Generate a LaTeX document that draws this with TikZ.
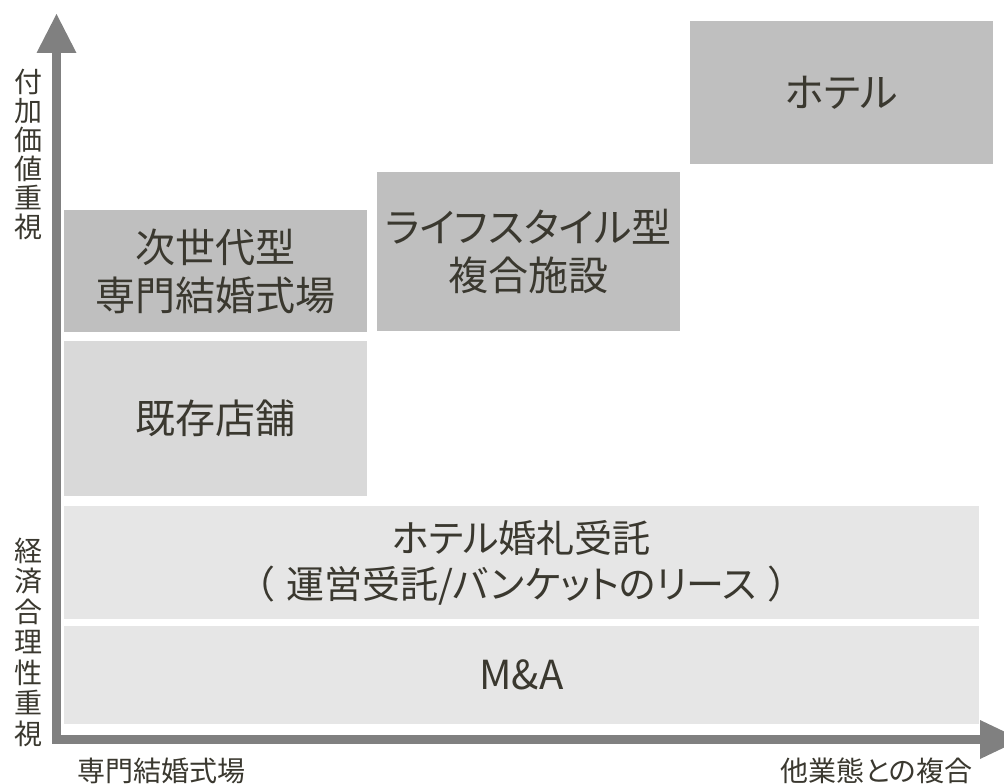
\documentclass[tikz,border=0pt]{standalone}
\usepackage{fontspec}
\setmainfont{Noto Sans CJK JP}[RawFeature=+palt]
\definecolor{boxdark}{HTML}{BFBFBF}
\definecolor{boxmid}{HTML}{D9D9D9}
\definecolor{boxlight}{HTML}{E6E6E6}
\definecolor{axisgray}{HTML}{808080}
\definecolor{txt}{HTML}{3A382F}
\tikzset{
  box/.style={draw=none, inner sep=0pt, align=center, text=txt,
    font=\fontsize{40}{48}\selectfont},
  darkbox/.style={box, fill=boxdark},
  midbox/.style={box, fill=boxmid},
  lightbox/.style={box, fill=boxlight},
  axislabel/.style={inner sep=0pt, align=center, text=txt},
  axisline/.style={draw=axisgray, line width=8.5pt, miter limit=10},
  axishead/.style={fill=axisgray, draw=none},
}
\begin{document}
\begin{tikzpicture}[x=1pt,y=-1pt]
\useasboundingbox (0,0) rectangle (1004,784);
\clip (0,0) rectangle (1004,784);

% boxes
\node[darkbox, minimum width=303pt, minimum height=143pt] (hotel) at (841.5,92.5) {ホテル};
\node[darkbox, minimum width=303pt, minimum height=159pt] (life) at (528.5,251.5) {ライフスタイル型\\複合施設};
\node[darkbox, minimum width=303pt, minimum height=122pt] (next) at (215.5,271) {次世代型\\専門結婚式場};
\node[midbox, minimum width=303pt, minimum height=155pt] (exist) at (215.5,418.5) {既存店舗};
\node[lightbox, minimum width=915pt, minimum height=113pt, font=\fontsize{38}{46}\selectfont] (hwed) at (521.5,562.5) {ホテル婚礼受託\\（\hspace{12pt}運営受託/バンケットのリース\hspace{12pt}）};
\node[lightbox, minimum width=915pt, minimum height=98pt] (ma) at (521.5,675) {M\&A};

% axes
\coordinate (ytop) at (56.5,53);
\coordinate (origin) at (56.5,739.5);
\coordinate (xend) at (980,739.5);
\draw[axisline] (ytop) -- (origin) -- (xend);
\fill[axishead] (36.5,53) -- (56.5,14) -- (76.5,53) -- cycle;
\fill[axishead] (980,720) -- (1021,739.5) -- (980,759) -- cycle;

% axis labels
\node[axislabel, font=\fontsize{28}{29}\selectfont] (ylabtop) at (28,154) {付\\加\\価\\値\\重\\視};
\node[axislabel, font=\fontsize{28}{30.5}\selectfont] (ylabbot) at (28,642) {経\\済\\合\\理\\性\\重\\視};
\node[axislabel, font=\fontsize{28}{30}\selectfont] (xlableft) at (161.5,770.5) {専門結婚式場};
\node[axislabel, font=\fontsize{28}{30}\selectfont] (xlabright) at (876.5,770.5) {他業態との複合};
\end{tikzpicture}
\end{document}
